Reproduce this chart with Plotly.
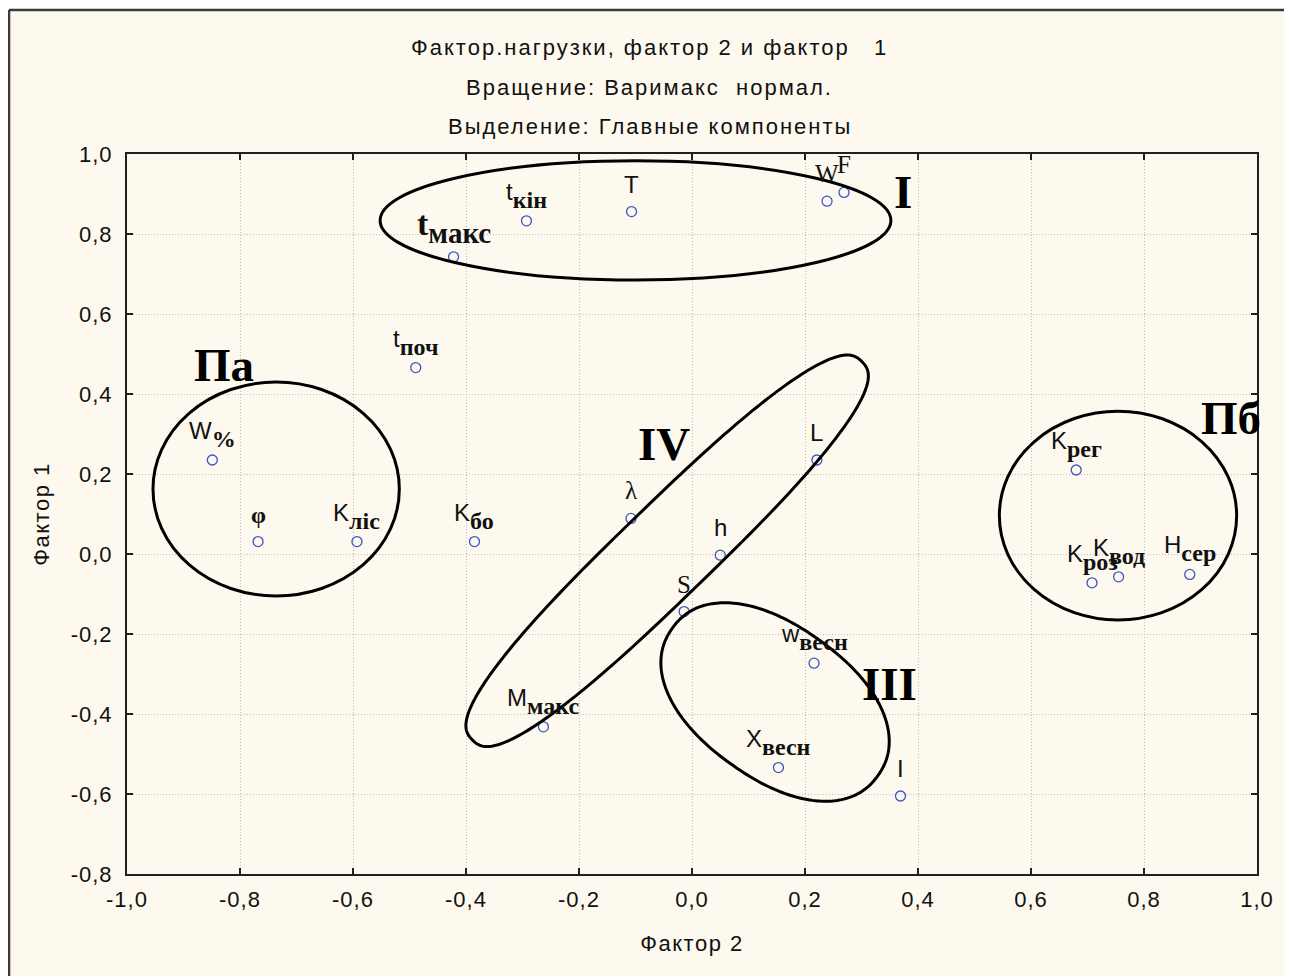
import numpy as np
import plotly.graph_objects as go

# ---------------- data (factor loadings) ----------------
label_main = ["t", "t", "T", "W", "F", "t", "W", "φ", "K", "K", "λ", "h", "L", "S",
              "w", "M", "X", "I", "K", "K", "K", "H"]
label_sub = ["макс", "кін", "", "", "", "поч", "%", "", "ліс", "бо", "", "", "", "",
             "весн", "макс", "весн", "", "рег", "роз", "вод", "сер"]
factor2 = [-0.422, -0.293, -0.107, 0.239, 0.269, -0.489, -0.849, -0.768, -0.593, -0.385,
           -0.108, 0.050, 0.221, -0.014, 0.216, -0.263, 0.153, 0.369, 0.680, 0.708,
           0.755, 0.881]
factor1 = [0.743, 0.833, 0.856, 0.882, 0.904, 0.466, 0.235, 0.031, 0.031, 0.031,
           0.089, -0.003, 0.235, -0.144, -0.273, -0.432, -0.534, -0.605, 0.210, -0.072,
           -0.057, -0.051]

tick_vals_x = [-1.0, -0.8, -0.6, -0.4, -0.2, 0.0, 0.2, 0.4, 0.6, 0.8, 1.0]
tick_text_x = ["-1,0", "-0,8", "-0,6", "-0,4", "-0,2", "0,0", "0,2", "0,4", "0,6", "0,8", "1,0"]
tick_vals_y = [-0.8, -0.6, -0.4, -0.2, 0.0, 0.2, 0.4, 0.6, 0.8, 1.0]
tick_text_y = ["-0,8", "-0,6", "-0,4", "-0,2", "0,0", "0,2", "0,4", "0,6", "0,8", "1,0"]

title_lines = ["Фактор.нагрузки, фактор 2 и фактор   1",
               "Вращение: Варимакс  нормал.",
               "Выделение: Главные компоненты"]
x_title = "Фактор 2"
y_title = "Фактор 1"

# group names and their outlines (in data units)
group_names = ["I", "Па", "Пб", "III", "IV"]
group_label_x = [0.373, -0.829, 0.954, 0.350, -0.050]
group_label_y = [0.904, 0.472, 0.340, -0.325, 0.275]
# axis-aligned ellipses: (x0, x1, y0, y1)
ellipse_I = (-0.552, 0.352, 0.685, 0.983)
ellipse_IIa = (-0.954, -0.518, -0.105, 0.430)
ellipse_IIb = (0.544, 0.964, -0.165, 0.357)
# tilted outlines: centre, first semi-axis vector, second semi-axis vector, squareness
outline_III = dict(c=(0.147, -0.370), u=(0.182, -0.184), v=(-0.078, -0.155), n=2.2)
outline_IV = dict(c=(-0.044, 0.008), u=(0.345, 0.4725), v=(0.0567, -0.0825), n=2.6)

# ---------------- styles ----------------
SANS = "Liberation Sans, Arial, sans-serif"
SERIF = "Liberation Serif, Times New Roman, serif"
CREAM = "#FDF9EE"
MARKER = "#3a55c8"
INK = "#111111"

# style of the main letter of each label: sans / serif / bold / big
label_style = ["big", "sans", "sans", "serif", "serif", "sans", "sans", "bold", "sans", "sans",
               "serif", "sans", "sans", "serif", "sans", "sans", "sans", "sans", "sans", "sans",
               "sans", "sans"]


def span(txt, fam, size, bold=False, spacing=None):
    st = f"font-family:{fam};font-size:{size}px"
    if bold:
        st += ";font-weight:bold"
    if spacing is not None:
        st += f";letter-spacing:{spacing}px"
    return f'<span style="{st}">{txt}</span>'


def spaced(txt, px):
    return f'<span style="letter-spacing:{px}px">{txt}</span>'


def label_html(main, sub, style):
    if style == "big":
        m = span(main, SERIF, 34, True)
        s = span(sub, SERIF, 29, True)
    else:
        if style == "sans":
            m = span(main, SANS, 24)
        elif style == "serif":
            m = span(main, SERIF, 25)
        else:
            m = span(main, SERIF, 24, True)
        s = span(sub, SERIF, 24, True)
    if sub:
        return m + "<sub>" + s + "</sub>"
    return m


def outline_path(c, u, v, n, npts=240):
    t = np.linspace(0, 2 * np.pi, npts)
    ct, st = np.cos(t), np.sin(t)
    c2 = np.sign(ct) * np.abs(ct) ** (2.0 / n)
    s2 = np.sign(st) * np.abs(st) ** (2.0 / n)
    xs = c[0] + u[0] * c2 + v[0] * s2
    ys = c[1] + u[1] * c2 + v[1] * s2
    return "M " + " L ".join(f"{a:.5f},{b:.5f}" for a, b in zip(xs, ys)) + " Z"


fig = go.Figure()
fig.add_trace(go.Scatter(
    x=factor2, y=factor1, mode="markers",
    marker=dict(symbol="circle-open", size=10, color=MARKER, line=dict(width=1.3, color=MARKER)),
    hoverinfo="skip", showlegend=False, cliponaxis=False))

annotations = []
for xm, ym, mn, sb, stl in zip(factor2, factor1, label_main, label_sub, label_style):
    annotations.append(dict(
        x=xm, y=ym, xref="x", yref="y", text=label_html(mn, sb, stl), showarrow=False,
        xanchor="center", yanchor="bottom", yshift=(6 if sb else 12),
        font=dict(size=40, color=INK, family=SANS)))

for name, gx, gy in zip(group_names, group_label_x, group_label_y):
    annotations.append(dict(
        x=gx, y=gy, xref="x", yref="y", text=f"<b>{name}</b>", showarrow=False,
        xanchor="center", yanchor="middle",
        font=dict(size=47, color="#000000", family=SERIF)))

title_y = [1.1486, 1.093, 1.0375]
for line, ty in zip(title_lines, title_y):
    annotations.append(dict(
        x=0.4628, y=ty, xref="paper", yref="paper", text=spaced(line, 2), showarrow=False,
        xanchor="center", yanchor="middle",
        font=dict(size=22, color=INK, family=SANS)))

shapes = [
    # cream panel with its frame
    dict(type="rect", xref="paper", yref="paper", x0=-0.1044, x1=1.0301, y0=-0.2, y1=1.2,
         fillcolor=CREAM, line=dict(width=0), layer="below"),
    dict(type="line", xref="paper", yref="paper", x0=-0.1044, x1=-0.1044, y0=-0.2, y1=1.2,
         line=dict(color="#3a3a3a", width=2.5), layer="below"),
    dict(type="line", xref="paper", yref="paper", x0=-0.1044, x1=1.0301, y0=1.2, y1=1.2,
         line=dict(color="#3a3a3a", width=2.5), layer="below"),
    dict(type="line", xref="paper", yref="paper", x0=1.0294, x1=1.0294, y0=-0.2, y1=1.2,
         line=dict(color="#a0a0a0", width=1.5), layer="below"),
]
for (x0, x1, y0, y1) in (ellipse_I, ellipse_IIa, ellipse_IIb):
    shapes.append(dict(type="circle", xref="x", yref="y", x0=x0, x1=x1, y0=y0, y1=y1,
                       line=dict(color="#000000", width=3), layer="above"))
for o in (outline_III, outline_IV):
    shapes.append(dict(type="path", xref="x", yref="y", path=outline_path(o["c"], o["u"], o["v"], o["n"]),
                       line=dict(color="#000000", width=3), layer="above"))

axis_common = dict(
    showgrid=True, gridcolor="#bdbdbd", griddash="1px,2px", gridwidth=1,
    zeroline=False, showline=True, linecolor="#202020", linewidth=2, mirror="ticks",
    ticks="inside", ticklen=6, tickwidth=1.5, tickcolor="#202020",
    tickfont=dict(size=22, color=INK, family=SANS),
)

fig.update_layout(
    width=1284, height=968,
    margin=dict(l=119, r=35, t=146, b=102),
    paper_bgcolor="white", plot_bgcolor="white",
    showlegend=False,
    shapes=shapes, annotations=annotations,
    xaxis=dict(range=[-1.0, 1.0], tickvals=tick_vals_x, ticktext=[spaced(t, 1) for t in tick_text_x],
               ticklabelstandoff=5,
               title=dict(text=spaced(x_title, 1.5), font=dict(size=22, family=SANS, color=INK), standoff=24),
               **axis_common),
    yaxis=dict(range=[-0.8, 1.0], tickvals=tick_vals_y, ticktext=[spaced(t, 1) for t in tick_text_y],
               ticklabelstandoff=8,
               title=dict(text=spaced(y_title, 1.5), font=dict(size=22, family=SANS, color=INK), standoff=15),
               **axis_common),
)

fig.write_html("out.html")
